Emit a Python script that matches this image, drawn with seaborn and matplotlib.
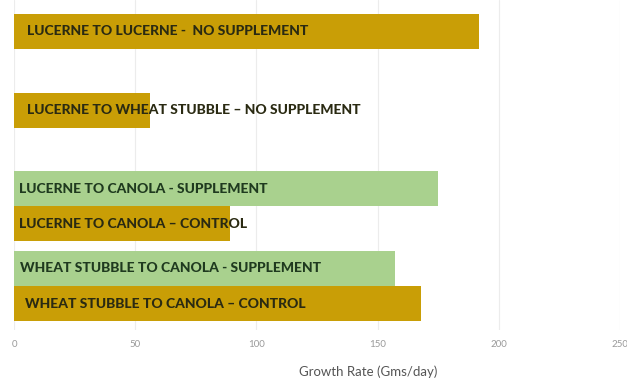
import matplotlib
matplotlib.use("Agg")
import matplotlib.pyplot as plt
import seaborn as sns
import pandas as pd

# Growth rate per treatment (Gms/day)
treatments = [
    "LUCERNE TO LUCERNE -  NO SUPPLEMENT",
    "LUCERNE TO WHEAT STUBBLE \u2013 NO SUPPLEMENT",
    "LUCERNE TO CANOLA - SUPPLEMENT",
    "LUCERNE TO CANOLA \u2013 CONTROL",
    "WHEAT STUBBLE TO CANOLA - SUPPLEMENT",
    "WHEAT STUBBLE TO CANOLA \u2013 CONTROL",
]
growth_rate = [192, 56, 175, 89, 157, 168]
treatment_type = ["Control", "Control", "Supplement", "Control", "Supplement", "Control"]
x_ticks = [0, 50, 100, 150, 200, 250]

# Row layout (in bar heights) and label offsets
row_pos = [0.0, 2.27, 4.51, 5.51, 6.77, 7.79]
label_offset = [5.4, 5.4, 2.1, 2.1, 2.5, 4.6]

palette = {"Control": "#C99E06", "Supplement": "#A9D18E"}
text_colour = {"Control": "#2a2a12", "Supplement": "#1f3a1f"}

df = pd.DataFrame({"treatment": treatments, "rate": growth_rate,
                   "type": treatment_type, "row": row_pos})

sns.set_style("white")
plt.rcParams["font.family"] = ["Lato", "DejaVu Sans"]

fig = plt.figure(figsize=(6.27, 3.83), dpi=100)
ax = fig.add_axes([14 / 627, 53 / 383, 606 / 627, 330 / 383])

sns.barplot(data=df, x="rate", y="row", hue="type", palette=palette,
            orient="h", native_scale=True, dodge=False, width=1.0,
            saturation=1.0, legend=False, linewidth=0, ax=ax)

for i, r in df.iterrows():
    ax.text(label_offset[i], r["row"], r["treatment"], va="center", ha="left",
            fontsize=10, fontweight="black", color=text_colour[r["type"]])

ax.set_xlim(0, 250)
ax.set_ylim(8.54, -0.886)
ax.set_xticks(x_ticks)
ax.set_xticklabels([str(t) for t in x_ticks], fontsize=7, color="#9a9a9a")
ax.tick_params(axis="x", length=0, pad=7)
ax.set_yticks([])
ax.set_ylabel("")
ax.set_xlabel("Growth Rate (Gms/day)", fontsize=9.5, color="#555555")
ax.xaxis.set_label_coords(0.585, -0.108)
ax.grid(axis="x", color="#ececec", linewidth=0.8)
ax.set_axisbelow(True)
for s in ax.spines.values():
    s.set_visible(False)

fig.savefig("out.png", dpi=100)
